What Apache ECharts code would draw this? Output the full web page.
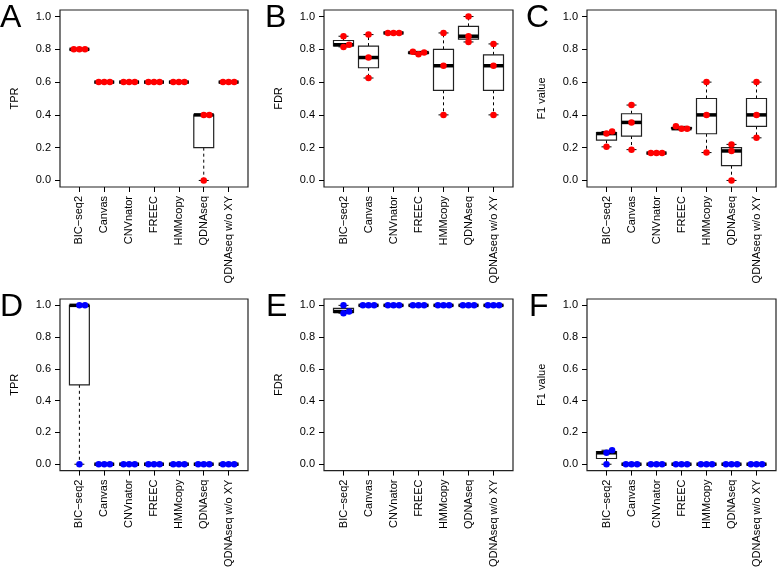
<!DOCTYPE html>
<html><head><meta charset="utf-8">
<script src="https://cdn.jsdelivr.net/npm/echarts@6/dist/echarts.min.js"></script>
<style>html,body{margin:0;padding:0;background:#fff}#c{width:778px;height:570px}</style>
</head><body><div id="c"></div>
<script>
// ---- data ----
const categories = ['BIC\u2212seq2', 'Canvas', 'CNVnator', 'FREEC', 'HMMcopy', 'QDNAseq', 'QDNAseq w/o XY'];
const yTicks = [0, 0.2, 0.4, 0.6, 0.8, 1.0];
const panelLetters = ['A', 'B', 'C', 'D', 'E', 'F'];
const yTitles = ['TPR', 'FDR', 'F1 value', 'TPR', 'FDR', 'F1 value'];

// three replicate values per method (top row, red)
const tprTop = [[0.8, 0.8, 0.8], [0.6, 0.6, 0.6], [0.6, 0.6, 0.6], [0.6, 0.6, 0.6], [0.6, 0.6, 0.6], [0.0, 0.4, 0.4], [0.6, 0.6, 0.6]];
const fdrTop = [[0.88, 0.815, 0.828], [0.625, 0.75, 0.89], [0.9, 0.9, 0.9], [0.77, 0.78, 0.785], [0.4, 0.7, 0.9], [0.845, 0.88, 1.0], [0.4, 0.7, 0.833]];
const f1Top = [[0.205, 0.286, 0.298], [0.188, 0.354, 0.46], [0.167, 0.167, 0.167], [0.316, 0.316, 0.33], [0.17, 0.4, 0.6], [0.0, 0.18, 0.22], [0.26, 0.4, 0.6]];
// bottom row, blue
const tprBottom = [[1.0, 1.0, 0.0], [0, 0, 0], [0, 0, 0], [0, 0, 0], [0, 0, 0], [0, 0, 0], [0, 0, 0]];
const fdrBottom = [[1.0, 0.951, 0.961], [1, 1, 1], [1, 1, 1], [1, 1, 1], [1, 1, 1], [1, 1, 1], [1, 1, 1]];
const f1Bottom = [[0.0, 0.072, 0.088], [0, 0, 0], [0, 0, 0], [0, 0, 0], [0, 0, 0], [0, 0, 0], [0, 0, 0]];

const panelData = [tprTop, fdrTop, f1Top, tprBottom, fdrBottom, f1Bottom];
const panelColors = ['#FF0000', '#FF0000', '#FF0000', '#0000FF', '#0000FF', '#0000FF'];

// ---- layout ----
const grids = [
  {left: 60, top: 10, width: 188, height: 177},
  {left: 324, top: 10, width: 189, height: 177},
  {left: 587, top: 10, width: 189, height: 177},
  {left: 60, top: 299, width: 188, height: 177},
  {left: 324, top: 299, width: 189, height: 177},
  {left: 587, top: 299, width: 189, height: 177}
];
const letterPos = [[0, 2], [265, 2], [526, 2], [0, 291], [266, 291], [529, 291]];

// Tukey five-number summary (as R's boxplot)
function fivenum(vals) {
  const s = vals.slice().sort((a, b) => a - b);
  const n = s.length;
  const n4 = Math.floor((n + 3) / 2) / 2;
  const d = [1, n4, (n + 1) / 2, n + 1 - n4, n];
  return d.map(p => 0.5 * (s[Math.floor(p) - 1] + s[Math.ceil(p) - 1]));
}

// simple swarm: spread overlapping points sideways
function swarm(vals, pxPerX, pxPerY, dia) {
  const placed = [];
  const out = [];
  const cands = [0, 1, -1, 2, -2, 3, -3];
  vals.forEach(v => {
    for (const c of cands) {
      const ox = c * dia;
      const ok = placed.every(p => Math.hypot(p[0] - ox, (p[1] - v) * pxPerY) >= dia - 0.01);
      if (ok) { placed.push([ox, v]); out.push(ox / pxPerX); break; }
    }
  });
  return out;
}

const chart = echarts.init(document.getElementById('c'), null, {renderer: 'canvas'});
const xMin = -0.78, xMax = 6.78, yMin = -0.04, yMax = 1.04;
const font = 'Liberation Sans, Arial, Helvetica, sans-serif';

const option = {
  animation: false,
  backgroundColor: '#fff',
  grid: grids.map(g => Object.assign({show: true, borderColor: '#222', borderWidth: 1.2, backgroundColor: 'transparent'}, g)),
  xAxis: grids.map((g, i) => ({
    gridIndex: i, type: 'value', min: xMin, max: xMax, position: 'bottom',
    axisLine: {show: false, onZero: false}, splitLine: {show: false},
    axisTick: {show: true, length: 5, inside: false, customValues: categories.map((c, k) => k), lineStyle: {color: '#000', width: 1}},
    axisLabel: {show: true, rotate: 90, margin: 9, fontSize: 11, color: '#000', fontFamily: font,
      customValues: categories.map((c, k) => k), formatter: v => categories[Math.round(v)]}
  })),
  yAxis: grids.map((g, i) => ({
    gridIndex: i, type: 'value', min: yMin, max: yMax, position: 'left',
    name: yTitles[i], nameLocation: 'middle', nameGap: 40, nameRotate: 90,
    nameTextStyle: {fontSize: 11, color: '#000', fontFamily: font},
    axisLine: {show: false, onZero: false}, splitLine: {show: false},
    axisTick: {show: true, length: 5, inside: false, customValues: yTicks, lineStyle: {color: '#000', width: 1}},
    axisLabel: {show: true, margin: 9, fontSize: 11, color: '#000', fontFamily: font,
      customValues: yTicks, formatter: v => v.toFixed(1)}
  })),
  graphic: panelLetters.map((L, i) => ({
    type: 'text', left: letterPos[i][0], top: letterPos[i][1],
    style: {text: L, fontSize: 32, fontFamily: font, fill: '#000'}
  })),
  series: []
};

panelData.forEach((pd, i) => {
  const boxData = pd.map((vals, k) => [k].concat(fivenum(vals)));
  option.series.push({
    type: 'custom', xAxisIndex: i, yAxisIndex: i, z: 2,
    data: boxData,
    encode: {x: 0, y: [1, 2, 3, 4, 5]},
    renderItem: function (params, api) {
      const x = api.value(0);
      const mn = api.value(1), q1 = api.value(2), md = api.value(3), q3 = api.value(4), mx = api.value(5);
      const half = 0.4, st = 0.2;
      const c = (a, b) => api.coord([a, b]);
      const ch = [];
      const line = (p1, p2, st2) => ({type: 'line', shape: {x1: p1[0], y1: p1[1], x2: p2[0], y2: p2[1]}, style: st2});
      const dash = {stroke: '#000', lineWidth: 1, lineDash: [3, 3]};
      const solid = {stroke: '#000', lineWidth: 1};
      if (mx > q3) ch.push(line(c(x, q3), c(x, mx), dash));
      if (mn < q1) ch.push(line(c(x, q1), c(x, mn), dash));
      ch.push(line(c(x - st, mx), c(x + st, mx), solid));
      ch.push(line(c(x - st, mn), c(x + st, mn), solid));
      const tl = c(x - half, q3), br = c(x + half, q1);
      ch.push({type: 'rect', shape: {x: tl[0], y: tl[1], width: br[0] - tl[0], height: br[1] - tl[1]},
        style: {fill: '#fff', stroke: '#222', lineWidth: 1.2}});
      ch.push(line(c(x - half, md), c(x + half, md), {stroke: '#000', lineWidth: 3.5}));
      return {type: 'group', children: ch};
    }
  });
  const g = grids[i];
  const pxX = g.width / (xMax - xMin), pxY = g.height / (yMax - yMin);
  const pts = [];
  pd.forEach((vals, k) => {
    const offs = swarm(vals, pxX, pxY, 5.6);
    vals.forEach((v, j) => pts.push([k + offs[j], v]));
  });
  option.series.push({
    type: 'scatter', xAxisIndex: i, yAxisIndex: i, z: 3,
    symbol: 'circle', symbolSize: 6.5, data: pts,
    itemStyle: {color: panelColors[i], opacity: 1}
  });
});

chart.setOption(option);
</script>
</body></html>
